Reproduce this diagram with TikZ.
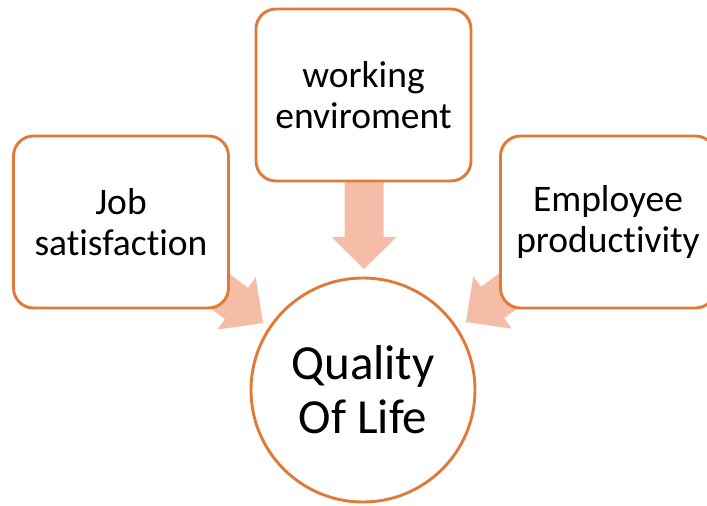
\documentclass[tikz,border=0pt]{standalone}
\usepackage{fontspec}
\setmainfont[Ligatures=NoCommon]{Carlito}
\definecolor{boxorange}{HTML}{E07A36}
\definecolor{arrowfill}{HTML}{F5BDA7}
\tikzset{
  box/.style={draw=boxorange, line width=2.9pt, fill=white, rounded corners=20pt,
    minimum width=215pt, minimum height=172pt, align=center, inner sep=0pt,
    font=\fontsize{37.5}{41}\selectfont},
  bigcircle/.style={draw=boxorange, line width=2.9pt, fill=white, circle,
    minimum size=224pt, align=center, inner sep=0pt,
    font=\fontsize{49}{54}\selectfont},
  blockarrow/.style={fill=arrowfill, draw=none}
}
\begin{document}
\begin{tikzpicture}[x=1pt,y=-1pt]
\useasboundingbox (0,0) rectangle (707,506);
\clip (0,0) rectangle (707,506);
% arrows (behind)
\coordinate (tl) at (263,323);
\coordinate (tt) at (364,269);
\coordinate (tr) at (466,322);
\begin{scope}[shift={(tl)}, rotate=-36.4]
  \fill[blockarrow] (0,0) -- (-33,32.5) -- (-33,19.5) -- (-120,19.5) -- (-120,-19.5) -- (-33,-19.5) -- (-33,-32.5) -- cycle;
\end{scope}
\begin{scope}[shift={(tt)}, rotate=-90]
  \fill[blockarrow] (0,0) -- (-32,32.5) -- (-32,19.5) -- (-110,19.5) -- (-110,-19.5) -- (-32,-19.5) -- (-32,-32.5) -- cycle;
\end{scope}
\begin{scope}[shift={(tr)}, rotate=-143.6]
  \fill[blockarrow] (0,0) -- (-33,32.5) -- (-33,19.5) -- (-120,19.5) -- (-120,-19.5) -- (-33,-19.5) -- (-33,-32.5) -- cycle;
\end{scope}
% boxes
\node[box] (job) at (121,222) {Job\\satisfaction};
\node[box] (work) at (363.5,95) {working\\enviroment};
\node[box] (emp) at (608,222) {Employee\\productivity};
\node[bigcircle] (qol) at (363,390) {Quality\\Of Life};
\end{tikzpicture}
\end{document}
